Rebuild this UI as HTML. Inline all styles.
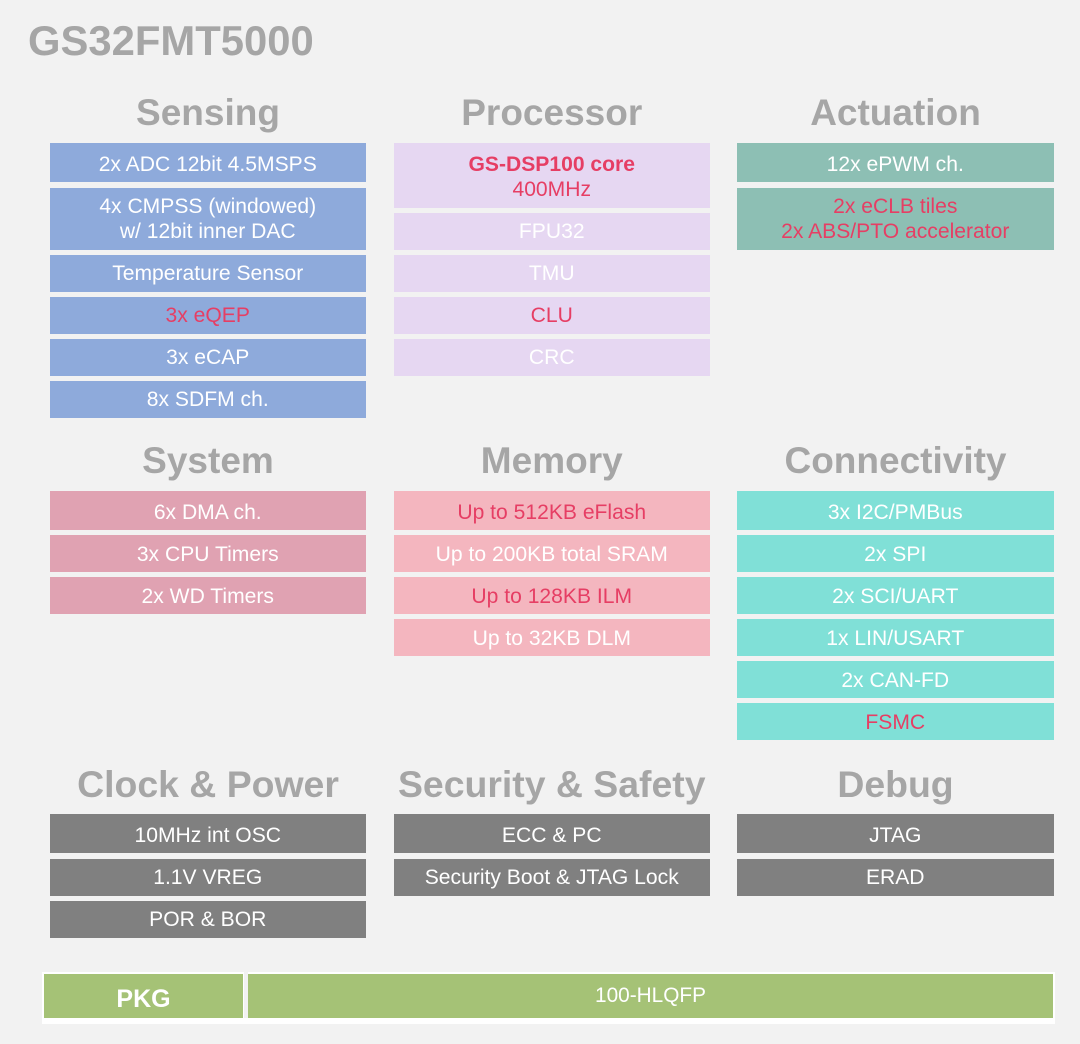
<!DOCTYPE html>
<html>
<head>
<meta charset="utf-8">
<style>
html,body{margin:0;padding:0;background:#f2f2f2}
#p{position:relative;width:1080px;height:1044px;background:#f2f2f2;overflow:hidden;font-family:"Liberation Sans",Arial,sans-serif}
.b{position:absolute;display:flex;align-items:center;justify-content:center;text-align:center;color:#fff;font-size:21.1px;line-height:25px;white-space:nowrap;box-sizing:border-box}
.t{padding-top:4px}.u{padding-top:2px}
.l{left:50px;width:315.5px}.m{left:393.5px;width:316.5px}.r{left:737px;width:316.5px}
.h{position:absolute;font-weight:bold;font-size:37px;color:#a6a6a6;text-align:center;line-height:42px;white-space:nowrap}
.h3{font-size:37.4px}
.hl{left:50px;width:316px}.hm{left:393.5px;width:316.5px}.hr{left:737px;width:317px}
.blue{background:#8eaadb}.pur{background:#e6d7f2}.teal{background:#8dbfb4}.rose{background:#e0a2b2}.pink{background:#f4b6bf}.cyan{background:#80e0d7}.gray{background:#808080}.green{background:#a5c276}
.red{color:#e63e64}
</style>
</head>
<body>
<div id="p">
<div style="position:absolute;left:28px;top:17px;font-size:41.8px;font-weight:bold;color:#a6a6a6;line-height:48px;white-space:nowrap">GS32FMT5000</div>

<div class="h hl" style="top:92px">Sensing</div>
<div class="h hm" style="top:92px">Processor</div>
<div class="h hr" style="top:92px">Actuation</div>

<div class="b l blue t" style="top:143px;height:39px">2x ADC 12bit 4.5MSPS</div>
<div class="b l blue" style="top:187.5px;height:62px">4x CMPSS (windowed)<br>w/ 12bit inner DAC</div>
<div class="b l blue" style="top:255px;height:36.5px">Temperature Sensor</div>
<div class="b l blue red" style="top:297px;height:36.5px">3x eQEP</div>
<div class="b l blue" style="top:339px;height:36.5px">3x eCAP</div>
<div class="b l blue" style="top:381px;height:36.5px">8x SDFM ch.</div>

<div class="b m pur red u" style="top:143px;height:65px"><div><b>GS-DSP100 core</b><br>400MHz</div></div>
<div class="b m pur" style="top:213px;height:36.5px">FPU32</div>
<div class="b m pur" style="top:255px;height:36.5px">TMU</div>
<div class="b m pur red" style="top:297px;height:36.5px">CLU</div>
<div class="b m pur" style="top:339px;height:36.5px">CRC</div>

<div class="b r teal t" style="top:143px;height:39px">12x ePWM ch.</div>
<div class="b r teal red" style="top:187.5px;height:62px">2x eCLB tiles<br>2x ABS/PTO accelerator</div>

<div class="h hl" style="top:440px">System</div>
<div class="h hm" style="top:440px">Memory</div>
<div class="h hr" style="top:440px">Connectivity</div>

<div class="b l rose t" style="top:491px;height:39px">6x DMA ch.</div>
<div class="b l rose u" style="top:535px;height:37px">3x CPU Timers</div>
<div class="b l rose u" style="top:577px;height:37px">2x WD Timers</div>

<div class="b m pink red t" style="top:491px;height:39px">Up to 512KB eFlash</div>
<div class="b m pink u" style="top:535px;height:37px">Up to 200KB total SRAM</div>
<div class="b m pink red u" style="top:577px;height:37px">Up to 128KB ILM</div>
<div class="b m pink u" style="top:619px;height:37px">Up to 32KB DLM</div>

<div class="b r cyan t" style="top:491px;height:39px">3x I2C/PMBus</div>
<div class="b r cyan u" style="top:535px;height:37px">2x SPI</div>
<div class="b r cyan u" style="top:577px;height:37px">2x SCI/UART</div>
<div class="b r cyan u" style="top:619px;height:37px">1x LIN/USART</div>
<div class="b r cyan u" style="top:661px;height:37px">2x CAN-FD</div>
<div class="b r cyan red u" style="top:703px;height:37px">FSMC</div>

<div class="h h3 hl" style="top:763px">Clock &amp; Power</div>
<div class="h h3 hm" style="top:763px">Security &amp; Safety</div>
<div class="h h3 hr" style="top:763px">Debug</div>

<div class="b l gray t" style="top:814px;height:39px">10MHz int OSC</div>
<div class="b l gray" style="top:859px;height:36.5px">1.1V VREG</div>
<div class="b l gray" style="top:901px;height:36.5px">POR &amp; BOR</div>

<div class="b m gray t" style="top:814px;height:39px">ECC &amp; PC</div>
<div class="b m gray" style="top:859px;height:36.5px">Security Boot &amp; JTAG Lock</div>

<div class="b r gray t" style="top:814px;height:39px">JTAG</div>
<div class="b r gray" style="top:859px;height:36.5px">ERAD</div>

<div style="position:absolute;left:42px;top:972px;width:1013px;height:52px;background:#fff"></div>
<div style="position:absolute;left:243.5px;top:972px;width:4.5px;height:46px;background:#f2f2f2"></div>
<div class="b green" style="left:44px;top:974px;width:199px;height:44px;font-size:25px;font-weight:bold;padding:6px 0 0 0">PKG</div>
<div class="b green" style="left:248px;top:974px;width:805px;height:44px;font-size:20.8px;padding:0 0 2px 0">100-HLQFP</div>
</div>
</body>
</html>
